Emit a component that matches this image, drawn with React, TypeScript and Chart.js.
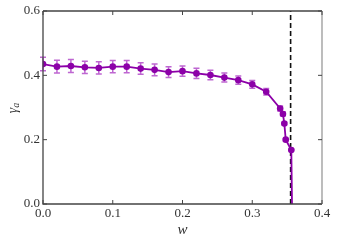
import React, { useEffect, useRef } from "react";
import { Chart, registerables } from "chart.js";

Chart.register(...registerables);

const wValues = [0, 0.02, 0.04, 0.06, 0.08, 0.1, 0.12, 0.14, 0.16, 0.18, 0.2, 0.22, 0.24, 0.26, 0.28, 0.3, 0.32, 0.34, 0.344, 0.346, 0.348, 0.356, 0.357];
const gammaValues = [0.435, 0.427, 0.429, 0.425, 0.423, 0.427, 0.427, 0.421, 0.417, 0.41, 0.413, 0.406, 0.401, 0.393, 0.385, 0.372, 0.349, 0.297, 0.28, 0.25, 0.2, 0.168, 0];
const gammaErrors = [0.021, 0.02, 0.02, 0.019, 0.019, 0.019, 0.019, 0.018, 0.018, 0.017, 0.016, 0.016, 0.015, 0.014, 0.013, 0.012, 0.01, 0.008, 0.006, 0.004, 0.003, 0.002, 0];
const criticalW = 0.355;
const xTicks = [0, 0.1, 0.2, 0.3, 0.4];
const yTicks = [0, 0.2, 0.4, 0.6];

const PURPLE = "rgb(140, 0, 168)";
const ERR = "rgba(155, 20, 185, 0.65)";
const FONT = "'Liberation Serif', 'DejaVu Serif', serif";

const framePlugin = {
  id: "frameAndExtras",
  beforeDatasetsDraw(chart: any) {
    const ctx = chart.ctx;
    const xs = chart.scales.x;
    const ys = chart.scales.y;
    ctx.save();
    ctx.strokeStyle = ERR;
    ctx.lineWidth = 1.5;
    for (let i = 0; i < wValues.length; i++) {
      const e = gammaErrors[i];
      if (!e) continue;
      const px = xs.getPixelForValue(wValues[i]);
      const top = ys.getPixelForValue(gammaValues[i] + e);
      const bot = ys.getPixelForValue(gammaValues[i] - e);
      ctx.beginPath();
      ctx.moveTo(px, top);
      ctx.lineTo(px, bot);
      ctx.moveTo(px - 3, top);
      ctx.lineTo(px + 3, top);
      ctx.moveTo(px - 3, bot);
      ctx.lineTo(px + 3, bot);
      ctx.stroke();
    }
    ctx.restore();
  },
  afterDraw(chart: any) {
    const ctx = chart.ctx;
    const { left, right, top, bottom } = chart.chartArea;
    const xs = chart.scales.x;
    const ys = chart.scales.y;
    ctx.save();
    ctx.lineWidth = 1.3;
    ctx.strokeStyle = "#444";
    ctx.beginPath();
    ctx.moveTo(left, top);
    ctx.lineTo(right, top);
    ctx.moveTo(left, top);
    ctx.lineTo(left, bottom);
    ctx.lineTo(right, bottom);
    ctx.stroke();
    ctx.strokeStyle = "#999";
    ctx.beginPath();
    ctx.moveTo(right, top);
    ctx.lineTo(right, bottom);
    ctx.stroke();
    ctx.strokeStyle = "#444";
    ctx.lineWidth = 1;
    ctx.beginPath();
    for (const t of xTicks) {
      const px = xs.getPixelForValue(t);
      ctx.moveTo(px, bottom);
      ctx.lineTo(px, bottom - 4);
      ctx.moveTo(px, top);
      ctx.lineTo(px, top + 4);
    }
    for (const t of yTicks) {
      const py = ys.getPixelForValue(t);
      ctx.moveTo(left, py);
      ctx.lineTo(left + 4, py);
      ctx.moveTo(right, py);
      ctx.lineTo(right - 4, py);
    }
    ctx.stroke();
    ctx.fillStyle = "#333";
    ctx.translate(13, (top + bottom) / 2);
    ctx.rotate(-Math.PI / 2);
    ctx.textBaseline = "middle";
    ctx.textAlign = "left";
    ctx.font = `italic 14px ${FONT}`;
    const gw = ctx.measureText("γ").width;
    ctx.fillText("γ", -gw / 2 - 3, 0);
    ctx.font = `italic 10px ${FONT}`;
    ctx.fillText("a", gw / 2 - 3, 3);
    ctx.restore();
  },
};

export default function App() {
  const ref = useRef<HTMLCanvasElement | null>(null);
  useEffect(() => {
    document.body.style.margin = "0";
    const mainData = wValues.map((w, i) => ({ x: w, y: gammaValues[i] }));
    const chart = new Chart(ref.current!, {
      type: "scatter",
      data: {
        datasets: [
          {
            data: mainData,
            showLine: true,
            borderColor: PURPLE,
            backgroundColor: PURPLE,
            borderWidth: 1.8,
            pointRadius: wValues.map((_, i) => (i === wValues.length - 1 ? 0 : 3.3)),
            pointBorderWidth: 0,
            tension: 0,
          },
          {
            data: [
              { x: criticalW, y: 0 },
              { x: criticalW, y: 0.6 },
            ],
            showLine: true,
            borderColor: "#111",
            borderWidth: 1.6,
            borderDash: [5, 3],
            pointRadius: 0,
          },
        ],
      },
      options: {
        animation: false,
        responsive: false,
        events: [],
        layout: { padding: { left: 0, right: 16, top: 11, bottom: 0 } },
        plugins: { legend: { display: false }, tooltip: { enabled: false } },
        scales: {
          x: {
            type: "linear",
            min: 0,
            max: 0.4,
            grid: { display: false, drawTicks: false },
            border: { display: false },
            ticks: {
              stepSize: 0.1,
              padding: 2,
              color: "#333",
              font: { family: FONT, size: 13 },
              callback: (v: any) => Number(v).toFixed(1),
              maxRotation: 0,
            },
            title: {
              display: true,
              text: "w",
              color: "#333",
              font: { family: FONT, size: 15, style: "italic" },
              padding: { top: 0, bottom: 5 },
            },
            afterFit: (s: any) => {
              s.height = 40;
            },
          },
          y: {
            type: "linear",
            min: 0,
            max: 0.6,
            grid: { display: false, drawTicks: false },
            border: { display: false },
            ticks: {
              stepSize: 0.2,
              padding: 3,
              color: "#333",
              font: { family: FONT, size: 13 },
              callback: (v: any) => Number(v).toFixed(1),
            },
            afterFit: (s: any) => {
              s.width = 43;
            },
          },
        },
      },
      plugins: [framePlugin],
    });
    return () => chart.destroy();
  }, []);
  return <canvas ref={ref} width={338} height={244} style={{ display: "block" }} />;
}
